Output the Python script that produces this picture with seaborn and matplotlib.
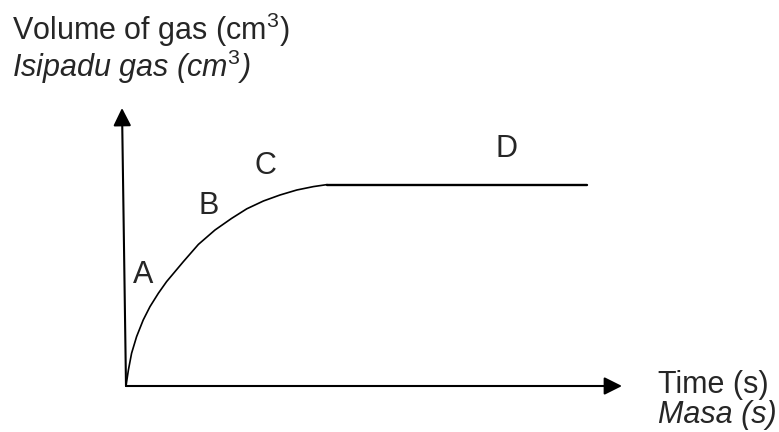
import matplotlib
matplotlib.use("Agg")
import matplotlib.pyplot as plt
import seaborn as sns
import pandas as pd

# --- data (arbitrary units) ---
time_curve = [0.0, 0.12, 0.28, 0.53, 0.86, 1.20, 1.62, 2.03, 2.87, 3.62,
              4.45, 5.28, 6.04, 6.87, 7.70, 8.54, 9.37, 10.05]
vol_curve = [0.0, 0.80, 1.64, 2.47, 3.30, 3.97, 4.64, 5.22, 6.22, 7.08,
             7.80, 8.38, 8.86, 9.25, 9.55, 9.80, 9.97, 10.07]
time_flat = [10.05, 23.05]
vol_flat = [10.07, 10.07]

region_labels = ["A", "B", "C", "D"]
region_x = [0.85, 4.15, 6.95, 19.05]
region_y = [5.55, 9.0, 10.98, 11.85]

y_title = [r"Volume of gas (cm$^3$)", r"Isipadu gas (cm$^{\mathit{3}}$)"]
x_title = ["Time (s)", "Masa (s)"]

sns.set_style("white")
plt.rcParams["font.family"] = ["Liberation Sans", "DejaVu Sans"]
plt.rcParams["mathtext.fontset"] = "custom"
plt.rcParams["mathtext.rm"] = "Liberation Sans"
plt.rcParams["mathtext.it"] = "Liberation Sans:italic"

fig = plt.figure(figsize=(7.79, 4.32), dpi=100)
ax = fig.add_axes([0, 0, 1, 1])

curve = pd.DataFrame({"t": time_curve, "v": vol_curve})
flat = pd.DataFrame({"t": time_flat, "v": vol_flat})
sns.lineplot(data=curve, x="t", y="v", ax=ax, color="black", linewidth=1.2, sort=False)
sns.lineplot(data=flat, x="t", y="v", ax=ax, color="black", linewidth=1.7)

# axes drawn as arrows
arrow = dict(arrowstyle="-|>,head_length=0.4,head_width=0.2", color="black",
             lw=1.5, mutation_scale=27, shrinkA=0, shrinkB=0)
ax.annotate("", xy=(-0.2, 13.9), xytext=(0, 0), arrowprops=arrow)
ax.annotate("", xy=(24.8, 0), xytext=(0, 0), arrowprops=arrow)

for lab, x, y in zip(region_labels, region_x, region_y):
    ax.text(x, y, lab, fontsize=22, ha="center", va="center")

ax.text(-5.7, 17.3, y_title[0], fontsize=22, ha="left", va="baseline")
ax.text(-5.7, 15.45, y_title[1], fontsize=22, ha="left", va="baseline", style="italic")
ax.text(26.6, -0.35, x_title[0], fontsize=22, ha="left", va="baseline")
ax.text(26.6, -1.85, x_title[1], fontsize=22, ha="left", va="baseline", style="italic")

ax.set_xlim(-6.3, 32.65)
ax.set_ylim(-2.3, 19.3)
ax.set_axis_off()

fig.savefig("out.png", dpi=100, facecolor="white")
